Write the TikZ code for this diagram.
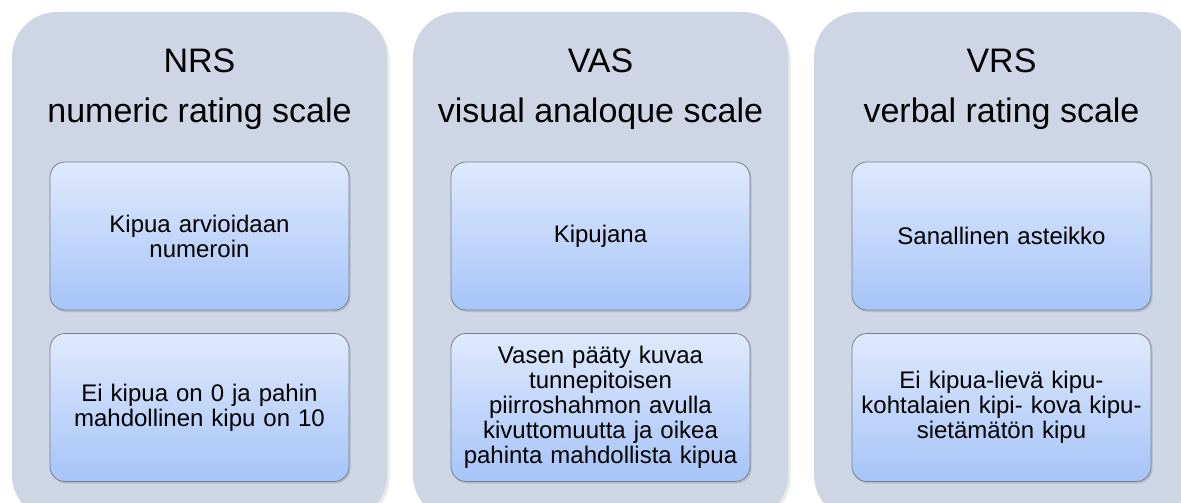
\documentclass[tikz,border=0pt]{standalone}
\usepackage{fontspec}
\setmainfont{Liberation Sans}
\usetikzlibrary{shadows}
\definecolor{panel}{RGB}{206,214,230}
\definecolor{boxtop}{RGB}{223,233,252}
\definecolor{boxbot}{RGB}{166,196,248}
\definecolor{boxline}{RGB}{118,128,146}
\begin{document}
\begin{tikzpicture}[x=1pt,y=-1pt,
  panelbox/.style={fill=panel, rounded corners=45pt, minimum width=375pt, minimum height=508pt, inner sep=0pt,
    drop shadow={opacity=0.18, shadow xshift=2.5pt, shadow yshift=-2.5pt}},
  innerbox/.style={draw=boxline, line width=0.8pt, rounded corners=15pt, top color=boxtop, bottom color=boxbot,
    minimum width=299pt, minimum height=148pt, inner sep=4pt, align=center, text width=290pt,
    font=\fontsize{24}{25}\selectfont,
    drop shadow={opacity=0.3, shadow xshift=1.5pt, shadow yshift=-2pt}},
  title/.style={font=\fontsize{34}{40}\selectfont, anchor=base, inner sep=0pt}]
\useasboundingbox (0,0) rectangle (1181,503);
\clip (0,0) rectangle (1181,503);
% panels
\node[panelbox] (p1) at (199.5,266) {};
\node[panelbox] (p2) at (600.5,266) {};
\node[panelbox] (p3) at (1001.5,266) {};
% titles
\node[title] (t1a) at (199.5,73) {NRS};
\node[title] (t1b) at (199.5,122) {numeric rating scale};
\node[title] (t2a) at (600.5,73) {VAS};
\node[title] (t2b) at (600.5,122) {visual analoque scale};
\node[title] (t3a) at (1001.5,73) {VRS};
\node[title] (t3b) at (1001.5,122) {verbal rating scale};
% inner boxes
\node[innerbox] (b1a) at (199.5,236) {Kipua arvioidaan\\numeroin};
\node[innerbox] (b1b) at (199.5,407.5) {Ei kipua on 0 ja pahin\\mahdollinen kipu on 10};
\node[innerbox] (b2a) at (600.5,236) {Kipujana};
\node[innerbox] (b2b) at (600.5,407.5) {Vasen pääty kuvaa\\tunnepitoisen\\piirroshahmon avulla\\kivuttomuutta ja oikea\\pahinta mahdollista kipua};
\node[innerbox] (b3a) at (1001.5,236) {Sanallinen asteikko};
\node[innerbox] (b3b) at (1001.5,407.5) {Ei kipua-lievä kipu-\\kohtalaien kipi- kova kipu-\\sietämätön kipu};
\end{tikzpicture}
\end{document}
